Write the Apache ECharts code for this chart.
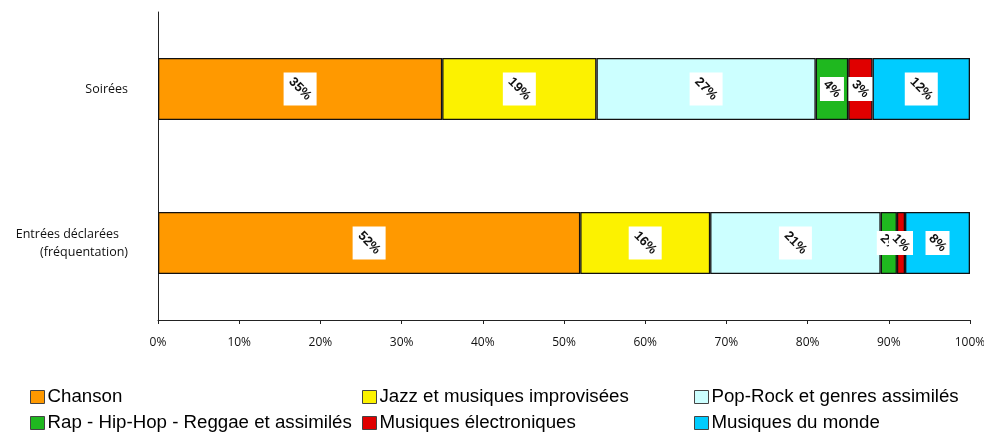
<!DOCTYPE html>
<html><head><meta charset="utf-8">
<script src="https://cdn.jsdelivr.net/npm/echarts@6/dist/echarts.min.js"></script>
<style>html,body{margin:0;padding:0;background:#fff}#c{width:984px;height:434px}</style>
</head><body><div id="c"></div>
<script>
const categories = ['Soirées', 'Entrées déclarées\n(fréquentation)'];
const seriesNames = ['Chanson', 'Jazz et musiques improvisées', 'Pop-Rock et genres assimilés',
  'Rap - Hip-Hop - Reggae et assimilés', 'Musiques électroniques', 'Musiques du monde'];
const chanson = [35, 52];
const jazz = [19, 16];
const popRock = [27, 21];
const rap = [4, 2];
const electro = [3, 1];
const monde = [12, 8];
const xTicks = [0, 10, 20, 30, 40, 50, 60, 70, 80, 90, 100];

const values = [chanson, jazz, popRock, rap, electro, monde];
const colors = ['#FF9900', '#FCF200', '#CCFFFF', '#1FB81F', '#E00000', '#00CCFF'];
const legendPos = [[30, 387], [362, 387], [694, 387], [30, 413], [362, 413], [694, 413]];

const barSeries = seriesNames.map((n, i) => ({
  name: n, type: 'bar', stack: 'total', barWidth: 62,
  itemStyle: { color: colors[i], borderColor: '#111', borderWidth: 1.3 },
  data: values[i]
}));

const labelData = [];
categories.forEach((c, ci) => {
  let cum = 0;
  values.forEach(v => { labelData.push([cum + v[ci] / 2, ci, v[ci]]); cum += v[ci]; });
});

const labelSeries = {
  type: 'custom', coordinateSystem: 'cartesian2d', z: 10, silent: true,
  encode: { x: 0, y: 1 },
  data: labelData,
  renderItem: function (params, api) {
    const p = api.coord([api.value(0), api.value(1)]);
    const txt = Math.round(api.value(2)) + '%';
    const s = txt.length > 2 ? 33 : 24;
    return {
      type: 'group', x: p[0], y: p[1],
      children: [
        { type: 'rect', shape: { x: -s / 2, y: -s / 2, width: s, height: s }, style: { fill: '#fff' } },
        { type: 'text', rotation: -45 * Math.PI / 180,
          style: { text: txt, fontSize: 13, fontWeight: 'bold', fontFamily: 'Liberation Sans, Arial', fill: '#111', align: 'center', verticalAlign: 'middle' } }
      ]
    };
  }
};

const legends = seriesNames.map((n, i) => ({
  data: [n], left: legendPos[i][0], top: legendPos[i][1], padding: 0,
  icon: 'rect', itemWidth: 14, itemHeight: 13, itemGap: 0, selectedMode: false,
  itemStyle: { borderColor: '#444', borderWidth: 1 },
  textStyle: { fontSize: 18.7, fontFamily: 'Liberation Sans, Arial', color: '#000', padding: [0, 0, 0, -2], lineHeight: 20 }
}));

const chart = echarts.init(document.getElementById('c'));
chart.setOption({
  animation: false,
  legend: legends,
  grid: { left: 158, right: 14, top: 12, bottom: 114, containLabel: false, outerBoundsMode: 'none' },
  xAxis: {
    type: 'value', min: 0, max: 100, interval: 10,
    axisLine: { show: true, lineStyle: { color: '#222', width: 1 } },
    axisTick: { show: true, length: 4, lineStyle: { color: '#222' } },
    splitLine: { show: false },
    axisLabel: { margin: 17, fontSize: 12, fontFamily: 'Open Sans, Noto Sans', color: '#111',
      formatter: v => xTicks.includes(v) ? v + '%' : '' }
  },
  yAxis: {
    type: 'category', data: categories, inverse: true,
    axisLine: { show: true, lineStyle: { color: '#222', width: 1 } },
    axisTick: { show: false },
    axisLabel: {
      margin: 30, fontSize: 12.5, fontFamily: 'Open Sans, Noto Sans', color: '#111', align: 'right', lineHeight: 18,
      formatter: v => v.includes('\n') ? '{a|Entrées déclarées}\n{b|(fréquentation)}' : v,
      rich: { a: { fontSize: 12.5, fontFamily: 'Open Sans, Noto Sans', color: '#111', padding: [0, 9, 0, 0], lineHeight: 18 },
              b: { fontSize: 12.5, fontFamily: 'Open Sans, Noto Sans', color: '#111', lineHeight: 18 } }
    }
  },
  series: barSeries.concat([labelSeries])
});
</script></body></html>
